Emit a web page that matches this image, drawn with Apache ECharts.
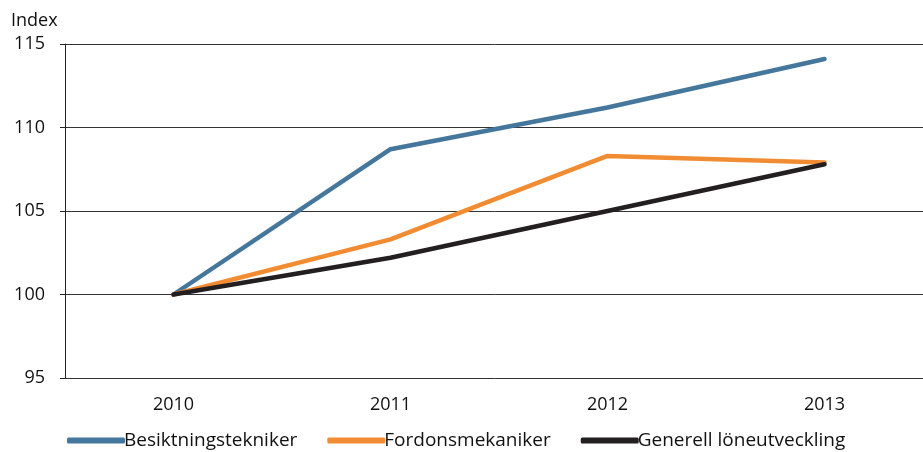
<!DOCTYPE html>
<html>
<head>
<meta charset="utf-8">
<script src="https://cdn.jsdelivr.net/npm/echarts@6/dist/echarts.min.js"></script>
<style>
  html, body { margin: 0; padding: 0; background: #fff; }
  #main { width: 923px; height: 452px; }
</style>
</head>
<body>
<div id="main"></div>
<script>
// data
var years = ['2010', '2011', '2012', '2013'];
var besiktning = [100, 108.7, 111.2, 114.1];
var fordon = [100, 103.3, 108.3, 107.9];
var generell = [100, 102.2, 105.0, 107.8];
var seriesNames = ['Besiktningstekniker', 'Fordonsmekaniker', 'Generell löneutveckling'];
var colors = ['#44779b', '#f28c33', '#231f20'];

var chart = echarts.init(document.getElementById('main'));
var font = '"Open Sans", Lato, sans-serif';

function line(name, data, color) {
    return {
        name: name,
        type: 'line',
        data: data,
        symbol: 'none',
        lineStyle: { color: color, width: 4.5, cap: 'round' },
        itemStyle: { color: color }
    };
}

var option = {
    animation: false,
    textStyle: { fontFamily: font },
    grid: { left: 65, right: -10, top: 44, bottom: 74, outerBoundsMode: 'none' },
    legend: {
        bottom: -3,
        left: 62,
        itemWidth: 58,
        itemHeight: 6,
        itemGap: 30,
        icon: 'roundRect',
        textStyle: { fontSize: 19, color: '#111', fontFamily: font, padding: [0, 0, 0, -6] },
        data: seriesNames
    },
    xAxis: {
        type: 'category',
        data: years,
        boundaryGap: true,
        axisLine: { show: false },
        axisTick: { show: false },
        axisLabel: { fontSize: 18, color: '#111', margin: 18 }
    },
    yAxis: {
        type: 'value',
        min: 95,
        max: 115,
        interval: 5,
        name: 'Index',
        nameLocation: 'end',
        nameGap: 14,
        nameTextStyle: { fontSize: 18, color: '#111', align: 'left', padding: [0, 0, 0, -54] },
        axisLine: { show: true, lineStyle: { color: '#222', width: 1 } },
        axisTick: { show: true, length: 5, lineStyle: { color: '#222' } },
        axisLabel: { fontSize: 18, color: '#111', margin: 20 },
        splitLine: { lineStyle: { color: '#333', width: 1 } }
    },
    series: [
        line(seriesNames[0], besiktning, colors[0]),
        line(seriesNames[1], fordon, colors[1]),
        line(seriesNames[2], generell, colors[2])
    ]
};
chart.setOption(option);
</script>
</body>
</html>
